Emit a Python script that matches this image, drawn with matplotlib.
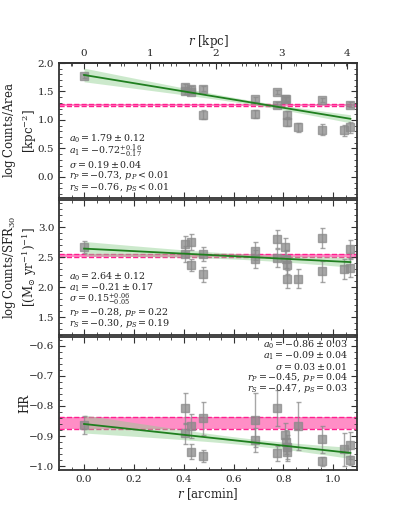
import numpy as np
import matplotlib
matplotlib.use("Agg")
import matplotlib.pyplot as plt
from matplotlib.ticker import MultipleLocator, FixedLocator

plt.rcParams['font.family'] = ['DejaVu Serif']
plt.rcParams['mathtext.fontset'] = 'dejavuserif'
plt.rcParams['font.size'] = 8

# ---------------- data ----------------
r_arcmin = [0.0, 0.406, 0.406, 0.43, 0.43, 0.477, 0.477, 0.687, 0.687, 0.776, 0.776,
            0.808, 0.811, 0.814, 0.816, 0.857, 0.955, 0.955, 1.044, 1.069, 1.069]

dens = [1.77, 1.575, 1.50, 1.54, 1.49, 1.55, 1.09, 1.36, 1.11, 1.49, 1.27,
        1.36, 1.37, 1.08, 0.97, 0.87, 1.35, 0.83, 0.82, 1.27, 0.87]
dens_err = [0.04, 0.05, 0.04, 0.05, 0.04, 0.04, 0.08, 0.05, 0.07, 0.04, 0.04,
            0.05, 0.04, 0.07, 0.08, 0.08, 0.04, 0.1, 0.1, 0.04, 0.1]

sfrn = [2.66, 2.72, 2.55, 2.75, 2.37, 2.55, 2.21, 2.60, 2.47, 2.80, 2.48,
        2.66, 2.47, 2.37, 2.14, 2.14, 2.82, 2.26, 2.30, 2.63, 2.32]
sfrn_err = [0.1, 0.13, 0.13, 0.14, 0.1, 0.12, 0.12, 0.15, 0.15, 0.15, 0.15,
            0.15, 0.15, 0.15, 0.15, 0.16, 0.17, 0.18, 0.16, 0.16, 0.16]

hr = [-0.862, -0.808, -0.891, -0.867, -0.952, -0.841, -0.967, -0.847, -0.913, -0.806, -0.958,
      -0.897, -0.919, -0.936, -0.952, -0.867, -0.911, -0.984, -0.944, -0.930, -0.980]
hr_err = [0.03, 0.052, 0.035, 0.04, 0.025, 0.055, 0.02, 0.09, 0.04, 0.06, 0.025,
          0.04, 0.04, 0.04, 0.03, 0.08, 0.045, 0.015, 0.055, 0.045, 0.015]

# fit parameters: a0, a1, sig_a0, sig_a1, correlation
fit_dens = (1.79, -0.72, 0.12, 0.165, -0.955)
fit_sfrn = (2.64, -0.21, 0.12, 0.17, -0.92)
fit_hr = (-0.86, -0.09, 0.03, 0.04, -0.93)

# reference bands (low, high)
band_dens = (1.24, 1.285)
band_sfrn = (2.508, 2.548)
band_hr = (-0.876, -0.838)

text_dens = [r"$a_0 = 1.79 \pm 0.12$", r"$a_1 = -0.72^{+0.16}_{-0.17}$",
             r"$\sigma = 0.19 \pm 0.04$", r"$r_P = -0.73$, $p_P < 0.01$",
             r"$r_S = -0.76$, $p_S < 0.01$"]
text_sfrn = [r"$a_0 = 2.64 \pm 0.12$", r"$a_1 = -0.21 \pm 0.17$",
             r"$\sigma = 0.15^{+0.06}_{-0.05}$", r"$r_P = -0.28$, $p_P = 0.22$",
             r"$r_S = -0.30$, $p_S = 0.19$"]
text_hr = [r"$a_0 = -0.86 \pm 0.03$", r"$a_1 = -0.09 \pm 0.04$",
           r"$\sigma = 0.03 \pm 0.01$", r"$r_P = -0.45$, $p_P = 0.04$",
           r"$r_S = -0.47$, $p_S = 0.03$"]

kpc_ticks = [0, 1, 2, 3, 4]
kpc_per_arcmin = 3.79

# ---------------- figure ----------------
fig = plt.figure(figsize=(3.97, 5.29), dpi=100)
W = 0.899 - 0.149
ax1 = fig.add_axes([0.149, 0.6257, W, 0.2552])
ax2 = fig.add_axes([0.149, 0.3667, W, 0.2552])
ax3 = fig.add_axes([0.149, 0.1115, W, 0.2514])

spine_c = '#333333'
pink = '#ff1f8f'
green_line = '#1f7f1f'
green_fill = '#8fd08f'
TXT = 6.8


def panel(ax, y, yerr, fit, band, ylim, major, minor, ylabel, xlab, texts, ypos, loc):
    xs = np.linspace(0.0, max(r_arcmin), 200)
    a0, a1, s0, s1, rho = fit
    model = a0 + a1 * xs
    sd = np.sqrt(s0**2 + 2 * xs * rho * s0 * s1 + xs**2 * s1**2)
    ax.axhspan(band[0], band[1], color=pink, alpha=0.5, lw=0, zorder=1)
    ax.axhline(band[0], color=pink, ls='--', lw=1.0, zorder=1)
    ax.axhline(band[1], color=pink, ls='--', lw=1.0, zorder=1)
    ax.fill_between(xs, model - sd, model + sd, color=green_fill, alpha=0.45, lw=0, zorder=2)
    ax.errorbar(r_arcmin, y, yerr=yerr, fmt='s', ms=5.5, color='#8a8a8a', alpha=0.75,
                ecolor='#8a8a8a', elinewidth=1.0, capsize=1.8, capthick=1.0, zorder=3)
    ax.plot(xs, model, color=green_line, lw=1.3, zorder=4)
    ax.set_xlim(-0.1, 1.095)
    ax.set_ylim(*ylim)
    ax.yaxis.set_major_locator(MultipleLocator(major))
    ax.yaxis.set_minor_locator(MultipleLocator(minor))
    ax.xaxis.set_major_locator(MultipleLocator(0.2))
    ax.xaxis.set_minor_locator(MultipleLocator(0.05))
    ax.tick_params(which='both', direction='in', top=True, right=True, colors=spine_c,
                   labelcolor='#222222', labelsize=7.5)
    ax.tick_params(which='major', length=4, width=0.8)
    ax.tick_params(which='minor', length=2, width=0.6)
    for s in ax.spines.values():
        s.set_color(spine_c)
        s.set_linewidth(1.3)
    ax.set_ylabel(ylabel, fontsize=8.5, linespacing=1.15, color='#222222')
    ax.yaxis.set_label_coords(xlab, 0.5)
    for t, yy in zip(texts, ypos):
        if loc == 'left':
            ax.text(0.034, yy, t, transform=ax.transAxes, ha='left', va='center',
                    fontsize=TXT, color='#222222', zorder=5)
        else:
            ax.text(0.97, yy, t, transform=ax.transAxes, ha='right', va='center',
                    fontsize=TXT, color='#222222', zorder=5)


panel(ax1, dens, dens_err, fit_dens, band_dens, (-0.37, 2.0), 0.5, 0.1,
      "$\\log{\\rm Counts/Area}$\n$[{\\rm kpc}^{-2}]$", -0.068, text_dens,
      [0.44, 0.345, 0.25, 0.165, 0.08], 'left')
panel(ax2, sfrn, sfrn_err, fit_sfrn, band_sfrn, (1.2, 3.45), 0.5, 0.1,
      "$\\log{\\rm Counts/SFR}_{30}$\n$[({\\rm M}_{\\odot}\\ {\\rm yr}^{-1})^{-1}]$", -0.068,
      text_sfrn, [0.435, 0.35, 0.265, 0.17, 0.085], 'left')
panel(ax3, hr, hr_err, fit_hr, band_hr, (-1.013, -0.571), 0.1, 0.02,
      "HR", -0.095, text_hr, [0.94, 0.86, 0.78, 0.695, 0.615], 'right')

ax1.tick_params(labelbottom=False, top=False)
ax2.tick_params(labelbottom=False)
ax3.set_xlabel(r"$r$ [arcmin]", fontsize=8.5, color='#222222', labelpad=2)

sec = ax1.secondary_xaxis('top', functions=(lambda x: x * kpc_per_arcmin,
                                            lambda k: k / kpc_per_arcmin))
sec.xaxis.set_major_locator(FixedLocator(kpc_ticks))
sec.xaxis.set_minor_locator(MultipleLocator(0.2))
sec.tick_params(which='both', direction='in', colors=spine_c, labelcolor='#222222',
                labelsize=7.5)
sec.tick_params(which='major', length=4, width=0.8)
sec.tick_params(which='minor', length=2, width=0.6)
sec.set_xlabel(r"$r$ [kpc]", fontsize=8.5, color='#222222', labelpad=3)
sec.spines['top'].set_color(spine_c)
sec.spines['top'].set_linewidth(1.3)

fig.savefig("out.png", dpi=100)
